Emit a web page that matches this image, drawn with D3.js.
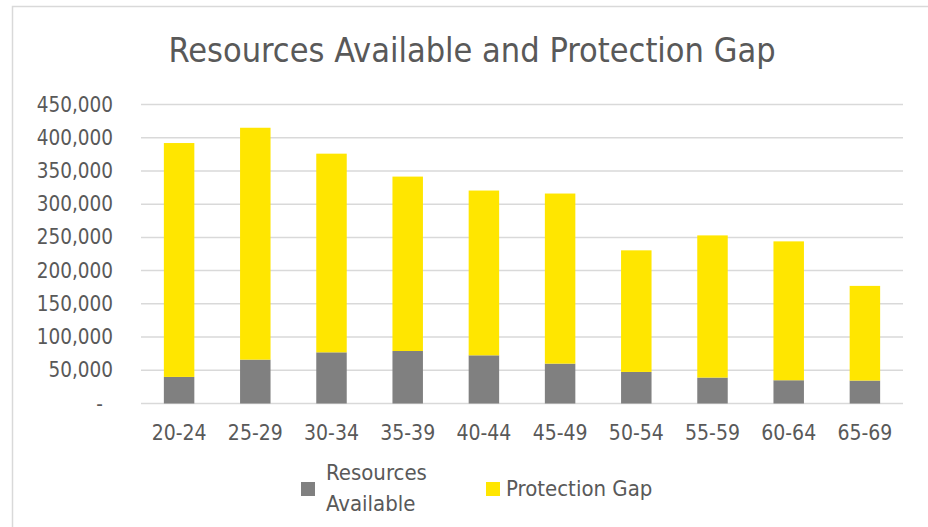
<!DOCTYPE html>
<html>
<head>
<meta charset="utf-8">
<script src="https://cdn.jsdelivr.net/npm/d3@7"></script>
<style>
  body { margin: 0; background: #fff; }
  text { font-family: "Liberation Sans Narrow", "DejaVu Sans Condensed", sans-serif; fill: #595959; }
</style>
</head>
<body>
<div class="container"></div>
<script>
// age bands and the two stacked series
var categories = ["20-24", "25-29", "30-34", "35-39", "40-44", "45-49", "50-54", "55-59", "60-64", "65-69"];
var resources = [40000, 66000, 77000, 79000, 72500, 60000, 47500, 39000, 35000, 34500];
var gap = [352000, 349000, 299000, 262500, 248000, 256000, 183000, 214000, 209000, 142500];
var yTicks = [0, 50000, 100000, 150000, 200000, 250000, 300000, 350000, 400000, 450000];
var seriesNames = ["Resources Available", "Protection Gap"];
var colors = ["#808080", "#FFE600"];

var W = 928, H = 527;
var margin = {top: 104.5, right: 25, bottom: 123.5, left: 141};

var svg = d3.select(".container").append("svg")
    .attr("width", W)
    .attr("height", H);

// chart area border (only top and left are visible in the picture)
svg.append("rect")
    .attr("x", 12.5).attr("y", 6.5)
    .attr("width", W + 20).attr("height", H + 20)
    .attr("fill", "none")
    .attr("stroke", "#d9d9d9")
    .attr("stroke-width", 1.5);

var x = d3.scaleBand()
    .domain(categories)
    .range([margin.left, W - margin.right])
    .paddingInner(0.6)
    .paddingOuter(0.3);

var y = d3.scaleLinear()
    .domain([0, 450000])
    .range([H - margin.bottom, margin.top]);

// gridlines
svg.append("g")
  .selectAll("line")
  .data(yTicks)
  .enter().append("line")
    .attr("x1", margin.left)
    .attr("x2", W - margin.right)
    .attr("y1", function(d) { return y(d); })
    .attr("y2", function(d) { return y(d); })
    .attr("stroke", "#d9d9d9")
    .attr("stroke-width", 1.5);

// y axis labels
var fmt = d3.format(",");
var yAxis = svg.append("g")
    .attr("transform", "translate(" + (margin.left - 28) + ",0)")
    .call(d3.axisLeft(y).tickValues(yTicks).tickSize(0).tickPadding(0)
      .tickFormat(function(d) { return d === 0 ? "-" : fmt(d); }));
yAxis.select(".domain").remove();
yAxis.selectAll("text")
    .style("font-size", "20.5px")
    .attr("fill", "#595959")
    .attr("dx", function(d) { return d === 0 ? -10 : 0; });

// stacked bars
var table = categories.map(function(c, i) {
  return {cat: c, res: resources[i], gap: gap[i]};
});
var stack = d3.stack().keys(["res", "gap"])(table);

svg.append("g")
  .selectAll("g")
  .data(stack)
  .enter().append("g")
    .attr("fill", function(d, i) { return colors[i]; })
  .selectAll("rect")
  .data(function(d) { return d; })
  .enter().append("rect")
    .attr("x", function(d) { return x(d.data.cat); })
    .attr("width", x.bandwidth())
    .attr("y", function(d) { return y(d[1]); })
    .attr("height", function(d) { return y(d[0]) - y(d[1]); });

// x axis labels
var xAxis = svg.append("g")
    .attr("transform", "translate(0," + (H - margin.bottom) + ")")
    .call(d3.axisBottom(x).tickSize(0).tickPadding(22));
xAxis.select(".domain").remove();
xAxis.selectAll("text")
    .style("font-size", "21px")
    .attr("fill", "#595959");

// title
svg.append("text")
    .attr("x", 472)
    .attr("y", 62)
    .attr("text-anchor", "middle")
    .style("font-size", "34px")
    .text("Resources Available and Protection Gap");

// legend
var legend = svg.append("g");
legend.append("rect")
    .attr("x", 301).attr("y", 482)
    .attr("width", 14).attr("height", 14)
    .attr("fill", colors[0]);
legend.append("text")
    .attr("x", 326).attr("y", 480)
    .style("font-size", "22px")
    .text("Resources");
legend.append("text")
    .attr("x", 326).attr("y", 511)
    .style("font-size", "22px")
    .text("Available");
legend.append("rect")
    .attr("x", 486).attr("y", 482)
    .attr("width", 14).attr("height", 14)
    .attr("fill", colors[1]);
legend.append("text")
    .attr("x", 506).attr("y", 496)
    .style("font-size", "22px")
    .text(seriesNames[1]);
</script>
</body>
</html>
